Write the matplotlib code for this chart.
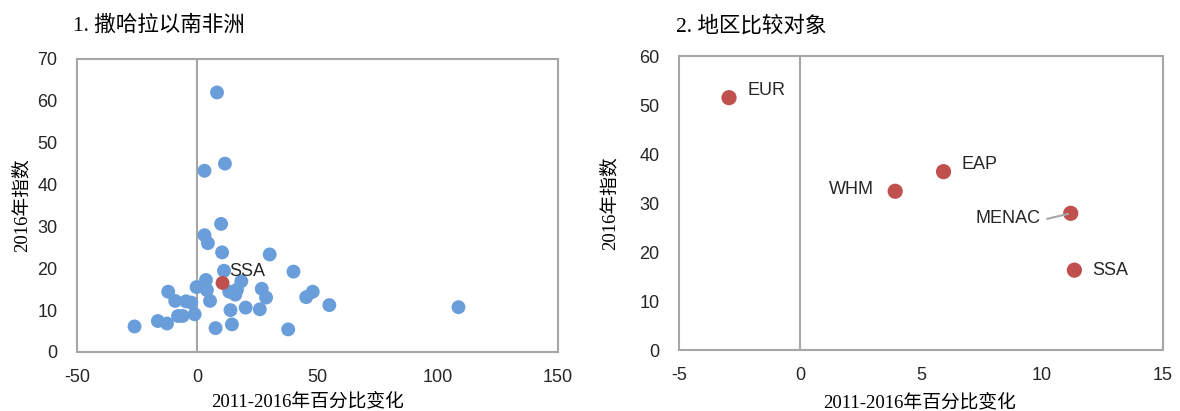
import matplotlib.pyplot as plt

plt.rcParams['axes.unicode_minus'] = False

# Panel 1: countries, change 2011-2016 (%) vs 2016 index
ssa_x = [8.2, 11.5, 3.0, 9.9, 3.0, 4.4, 10.3, 30.1, 40.0, 11.1, 18.3, 3.6,
         -0.3, 4.0, 13.3, 16.5, 15.8, 26.8, 28.6, -12.1, -9.2, -4.7, -2.5,
         5.3, 13.8, 20.1, 26.0, 45.3, 48.0, -1.1, -8.0, -6.1, -16.4, -12.6,
         -26.1, 7.6, 14.4, 37.8, 54.9, 108.6]
ssa_y = [62.0, 45.0, 43.3, 30.6, 27.9, 26.0, 23.8, 23.3, 19.2, 19.4, 16.9, 17.2,
         15.5, 14.8, 14.4, 14.9, 13.7, 15.1, 13.0, 14.4, 12.2, 12.1, 11.8,
         12.2, 10.0, 10.6, 10.2, 13.1, 14.4, 9.0, 8.6, 8.6, 7.4, 6.8,
         6.1, 5.7, 6.6, 5.4, 11.2, 10.7]
ssa_avg = (10.5, 16.5)

# Panel 2: regional comparators
regions = ['EUR', 'EAP', 'WHM', 'MENAC', 'SSA']
reg_x = [-2.93, 5.94, 3.94, 11.2, 11.35]
reg_y = [51.5, 36.4, 32.4, 27.9, 16.3]
# label offsets in points
reg_off = [(13, 5), (13, 5), (-15, 1), (-22, -4), (13, 0)]
reg_ha = ['left', 'left', 'right', 'right', 'left']

blue = '#6a9edb'
red = '#c0504d'
grey = '#a6a6a6'
tick_font = ['Liberation Sans Narrow', 'Liberation Sans']
cjk_font = ['Liberation Serif', 'Noto Sans CJK SC']

fig = plt.figure(figsize=(11.8, 4.11), dpi=100)
ax1 = fig.add_axes([0.0653, 0.1436, 0.4076, 0.7129])
ax2 = fig.add_axes([0.5754, 0.1484, 0.4099, 0.7153])


def style(ax, xlim, ylim, xticks, yticks):
    ax.set_xlim(*xlim)
    ax.set_ylim(*ylim)
    ax.set_xticks(xticks)
    ax.set_yticks(yticks)
    for s in ax.spines.values():
        s.set_color(grey)
        s.set_linewidth(1.5)
    ax.axvline(0, color=grey, lw=1.5, zorder=1)
    ax.tick_params(length=0, labelsize=13, labelcolor='#262626')
    ax.tick_params(axis='x', pad=12)
    ax.tick_params(axis='y', pad=14)
    for lab in ax.get_xticklabels() + ax.get_yticklabels():
        lab.set_family(tick_font)


style(ax1, (-50, 150), (0, 70), range(-50, 151, 50), range(0, 71, 10))
style(ax2, (-5, 15), (0, 60), range(-5, 16, 5), range(0, 61, 10))

ax1.scatter(ssa_x, ssa_y, s=100, color=blue, edgecolors='none', zorder=3)
ax1.scatter(*ssa_avg, s=100, color=red, edgecolors='none', zorder=4)
ax1.annotate('SSA', ssa_avg, xytext=(5, 8), textcoords='offset points',
             fontsize=13, family=tick_font, color='#262626', va='center')

ax2.scatter(reg_x, reg_y, s=120, color=red, edgecolors='none', zorder=3)
for name, x, y, off, ha in zip(regions, reg_x, reg_y, reg_off, reg_ha):
    ax2.annotate(name, (x, y), xytext=off, textcoords='offset points',
                 fontsize=13, family=tick_font, color='#262626',
                 ha=ha, va='center')
# leader line for MENAC
ax2.annotate('', (reg_x[3], reg_y[3]), xytext=(-17, -4),
             textcoords='offset points',
             arrowprops=dict(arrowstyle='-', color=grey, lw=1.5,
                             shrinkA=0, shrinkB=2))

for ax, lx, ly, bx, by in [(ax1, -0.114, 0.5, 0.48, -0.17),
                           (ax2, -0.143, 0.5, 0.497, -0.179)]:
    yl = ax.set_ylabel('2016年指数', fontsize=13.5, family=cjk_font)
    xl = ax.set_xlabel('2011-2016年百分比变化', fontsize=13.5, family=cjk_font)
    yl.set_va('center')
    xl.set_va('center')
    ax.yaxis.set_label_coords(lx, ly)
    ax.xaxis.set_label_coords(bx, by)

fig.text(73 / 1180, 1 - 26 / 411, '1. 撒哈拉以南非洲', fontsize=15.5,
         family=cjk_font, va='center')
fig.text(676 / 1180, 1 - 26 / 411, '2. 地区比较对象', fontsize=15.5,
         family=cjk_font, va='center')

fig.savefig('out.png', dpi=100)
